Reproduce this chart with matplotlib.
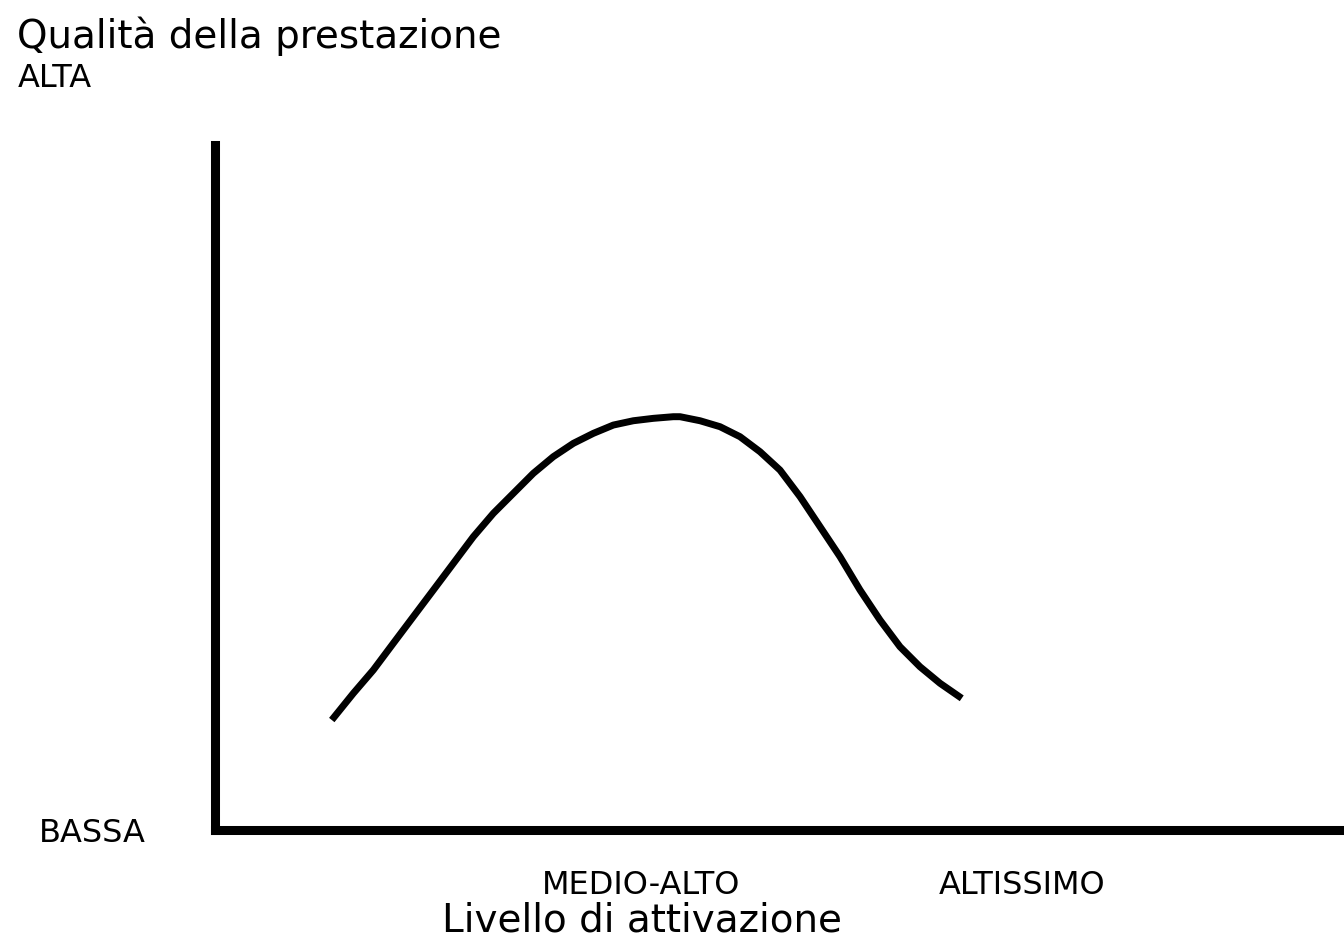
import numpy as np
import matplotlib.pyplot as plt

# curve (activation level 0-100, performance quality 0-100)
livello = [10.34, 12.25, 14.02, 15.79, 17.56, 19.34, 21.11, 22.88, 24.65, 26.42,
           28.19, 29.96, 31.74, 33.51, 35.28, 37.05, 38.82, 40.59, 41.19, 42.96,
           44.73, 46.50, 48.27, 50.04, 51.82, 53.59, 55.36, 57.13, 58.90, 60.67,
           62.44, 64.22, 66.14]
qualita = [16.06, 19.96, 23.36, 27.26, 31.14, 35.04, 38.93, 42.82, 46.23, 49.15,
           52.07, 54.50, 56.45, 57.91, 59.12, 59.75, 60.10, 60.34, 60.34, 59.75,
           58.88, 57.42, 55.23, 52.55, 48.66, 44.28, 39.90, 35.04, 30.66, 26.76,
           23.84, 21.42, 19.23]

x_ticks = [37.7, 71.5]
x_labels = ['MEDIO-ALTO', 'ALTISSIMO']
y_ticks = [0]
y_labels = ['BASSA']

plt.rcParams['font.family'] = ['DejaVu Sans']

fig = plt.figure(figsize=(13.44, 9.43), dpi=100)
ax = fig.add_axes([0.16, 0.1198, 0.84, 0.7264])

ax.plot(livello, qualita, color='black', linewidth=5,
        solid_capstyle='butt', solid_joinstyle='round')

ax.set_xlim(0, 100)
ax.set_ylim(0, 100)

for s in ['top', 'right']:
    ax.spines[s].set_visible(False)
for s in ['left', 'bottom']:
    ax.spines[s].set_linewidth(6.5)
    ax.spines[s].set_color('black')

ax.set_xticks(x_ticks)
ax.set_xticklabels(x_labels, fontsize=23)
ax.set_yticks(y_ticks)
ax.set_yticklabels(y_labels, fontsize=23)
ax.tick_params(length=0)
ax.tick_params(axis='y', pad=50)
ax.tick_params(axis='x', pad=29)

# axis title sits under MEDIO-ALTO, not at the middle of the axis
ax.set_xlabel('Livello di attivazione', fontsize=28)
ax.xaxis.set_label_coords(0.378, -0.105)

fig.text(0.013, 0.962, 'Qualità della prestazione', fontsize=28, va='center', ha='left')
fig.text(0.013, 0.917, 'ALTA', fontsize=23, va='center', ha='left')

fig.savefig('out.png', dpi=100, facecolor='white')
